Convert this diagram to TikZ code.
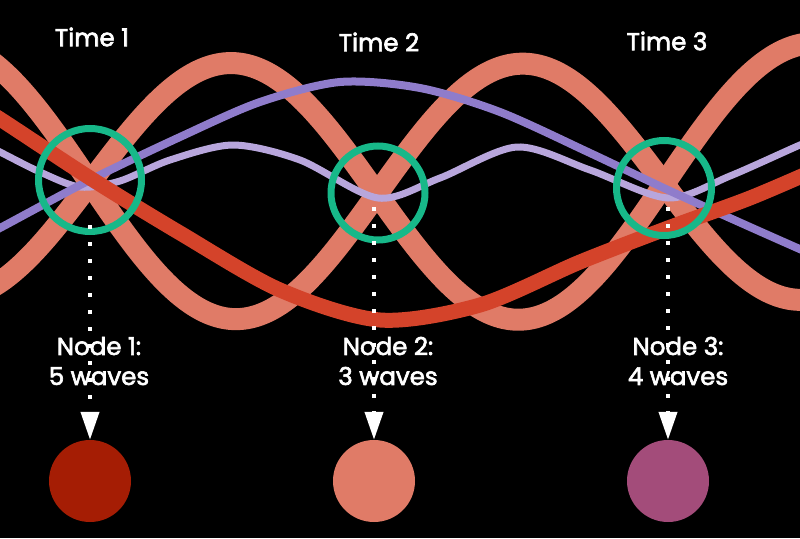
\documentclass[tikz,border=0pt]{standalone}
\usepackage{fontspec}
\setmainfont{Poppins}
\newfontfamily\etiqueta{Poppins}[FakeBold=2.5]
\usetikzlibrary{arrows.meta}

\definecolor{salmon}{HTML}{E07B67}
\definecolor{rojo}{HTML}{D4432A}
\definecolor{lila}{HTML}{8F7CCB}
\definecolor{lavanda}{HTML}{B8A6DC}
\definecolor{verde}{HTML}{17B889}
\definecolor{nodouno}{HTML}{A51D04}
\definecolor{nodotres}{HTML}{A34C7A}

\begin{document}
\begin{tikzpicture}[x=1pt, y=-1pt,
    onda/.style={salmon, line width=22pt},
    aro/.style={circle, draw=verde, line width=7pt, inner sep=0pt},
    bola/.style={circle, minimum size=82pt, inner sep=0pt},
    punteado/.style={white, line width=4pt, dash pattern=on 4pt off 13pt,
      -{Triangle[length=28pt, width=18pt]}},
    texto/.style={white, font=\etiqueta\fontsize{24.5}{30}\selectfont, align=center}]

    % Fondo
    \fill[black] (0,0) rectangle (800,538);
    \useasboundingbox (0,0) rectangle (800,538);

    % Ondas
    \begin{scope}
      \clip (0,0) rectangle (800,538);
      \draw[onda] plot[domain=-30:830, samples=150, smooth]
        (\x, {194-1.26*((\x-385)/100)^2+128*sin((\x-90)/287*180)});
      \draw[onda] plot[domain=-30:830, samples=150, smooth]
        (\x, {194-1.26*((\x-385)/100)^2-128*sin((\x-90)/287*180)});
      \draw[lavanda, line width=7pt] plot[smooth] coordinates
        {(-20,142) (0,152) (40,172) (80,187) (120,181) (170,160) (233,145)
         (300,160) (378,198) (440,178) (517,147) (590,170) (668,198)
         (730,176) (800,145) (820,138)};
      \draw[lila, line width=8pt] plot[smooth] coordinates
        {(-20,238) (0,228) (90,180) (180,137) (260,102) (340,82) (420,88)
         (500,112) (590,153) (668,190) (750,227) (820,258)};
      \draw[rojo, line width=15pt] plot[smooth] coordinates
        {(-20,108) (0,119) (90,178) (180,233) (280,290) (380,320) (480,305)
         (580,262) (668,228) (750,198) (820,168)};
    \end{scope}

    % Momentos
    \node[aro, minimum size=103pt] (t1) at (90,180) {};
    \node[aro, minimum size=94pt] (t2) at (378,193) {};
    \node[aro, minimum size=95pt] (t3) at (664,188) {};

    \node[texto] (h1) at (92,37) {Time 1};
    \node[texto] (h2) at (379,42) {Time 2};
    \node[texto] (h3) at (667,41) {Time 3};

    % Nodos
    \node[bola, fill=nodouno] (n1) at (90,481) {};
    \node[bola, fill=salmon] (n2) at (374,481) {};
    \node[bola, fill=nodotres] (n3) at (668,481) {};

    % Flechas punteadas
    \coordinate (d1) at (90,225);
    \coordinate (d2) at (374,207);
    \coordinate (d3) at (668,207);
    \draw[punteado] (d1) -- (n1.north);
    \draw[punteado] (d2) -- (n2.north);
    \draw[punteado] (d3) -- (n3.north);

    \node[texto] (l1) at (99,361) {Node 1:\\5 waves};
    \node[texto] (l2) at (388,361) {Node 2:\\3 waves};
    \node[texto] (l3) at (678,361) {Node 3:\\4 waves};

  \end{tikzpicture}
\end{document}
